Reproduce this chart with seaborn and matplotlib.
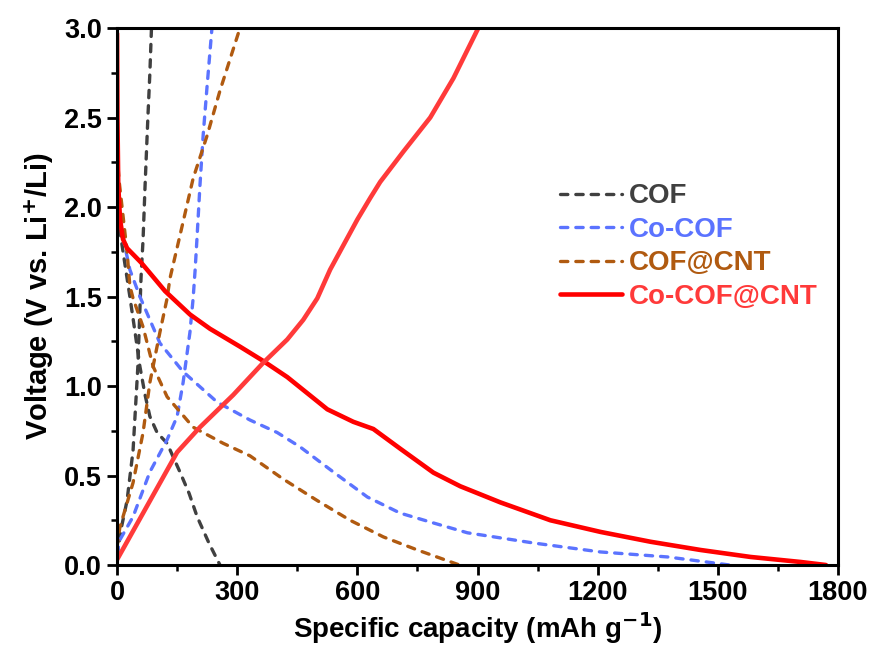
import matplotlib
matplotlib.use("Agg")
import matplotlib.pyplot as plt
from matplotlib.ticker import AutoMinorLocator
from matplotlib.lines import Line2D
import seaborn as sns
import pandas as pd

# Galvanostatic discharge/charge profiles (capacity in mAh g-1, voltage in V)
samples = ["COF", "Co-COF", "COF@CNT", "Co-COF@CNT"]

cof_dis_cap = [0, 5, 15, 32, 45, 57, 70, 82, 100, 125, 157, 180, 200, 230, 257]
cof_dis_v = [2.05, 1.90, 1.75, 1.50, 1.30, 1.11, 0.95, 0.83, 0.74, 0.68, 0.52, 0.40, 0.27, 0.12, 0.0]
cof_chg_cap = [0, 10, 25, 40, 52, 60, 65, 70, 77, 82, 86]
cof_chg_v = [0.05, 0.20, 0.36, 0.64, 1.11, 1.61, 1.82, 2.12, 2.50, 2.75, 3.0]

cocof_dis_cap = [0, 5, 12, 32, 57, 107, 165, 250, 332, 400, 457, 540, 625, 707, 790, 875, 1040, 1207, 1375, 1530]
cocof_dis_v = [2.0, 1.95, 1.86, 1.65, 1.50, 1.24, 1.08, 0.91, 0.81, 0.74, 0.66, 0.52, 0.38, 0.29, 0.235, 0.18, 0.123, 0.073, 0.045, 0.0]
cocof_chg_cap = [0, 7, 40, 82, 125, 150, 165, 182, 190, 195, 200, 207, 215, 225, 237]
cocof_chg_v = [0.06, 0.14, 0.27, 0.52, 0.70, 0.83, 1.02, 1.30, 1.49, 1.65, 1.84, 2.12, 2.40, 2.68, 3.0]

cofcnt_dis_cap = [0, 5, 25, 32, 40, 65, 90, 125, 190, 265, 332, 415, 500, 582, 665, 750, 855]
cofcnt_dis_v = [2.3, 2.15, 1.75, 1.56, 1.49, 1.33, 1.11, 0.94, 0.77, 0.68, 0.61, 0.48, 0.36, 0.25, 0.157, 0.084, 0.0]
cofcnt_chg_cap = [0, 7, 40, 65, 82, 107, 125, 132, 157, 190, 225, 257, 307]
cofcnt_chg_v = [0.1, 0.21, 0.46, 0.74, 1.02, 1.30, 1.49, 1.60, 1.84, 2.16, 2.40, 2.65, 3.0]

cocofcnt_dis_cap = [0, 1, 3, 7.5, 15, 25, 60, 120, 182, 232, 307, 365, 425, 525, 590, 640, 707, 790, 857, 957, 1082, 1207, 1332, 1457, 1582, 1707, 1770]
cocofcnt_dis_v = [2.97, 2.50, 2.12, 1.93, 1.82, 1.77, 1.69, 1.53, 1.40, 1.32, 1.22, 1.14, 1.05, 0.87, 0.80, 0.76, 0.65, 0.516, 0.44, 0.35, 0.25, 0.185, 0.13, 0.084, 0.045, 0.017, 0.0]
cocofcnt_chg_cap = [0, 40, 90, 150, 207, 290, 365, 425, 465, 500, 532, 600, 632, 657, 715, 782, 840, 902]
cocofcnt_chg_v = [0.03, 0.19, 0.39, 0.63, 0.77, 0.95, 1.13, 1.26, 1.37, 1.49, 1.65, 1.93, 2.05, 2.14, 2.31, 2.50, 2.72, 3.0]

x_ticks = [0, 300, 600, 900, 1200, 1500, 1800]
y_ticks = [0.0, 0.5, 1.0, 1.5, 2.0, 2.5, 3.0]

curves = {
    "COF": [(cof_dis_cap, cof_dis_v), (cof_chg_cap, cof_chg_v)],
    "Co-COF": [(cocof_dis_cap, cocof_dis_v), (cocof_chg_cap, cocof_chg_v)],
    "COF@CNT": [(cofcnt_dis_cap, cofcnt_dis_v), (cofcnt_chg_cap, cofcnt_chg_v)],
    "Co-COF@CNT": [(cocofcnt_dis_cap, cocofcnt_dis_v), (cocofcnt_chg_cap, cocofcnt_chg_v)],
}

colors = {"COF": "#404040", "Co-COF": "#5B73FF", "COF@CNT": "#B05A10", "Co-COF@CNT": "#FF3A3A"}
seg_colors = {"Co-COF@CNT": ["#FF0000", "#FF3A3A"]}
dash = (0, (2.2, 2.4))
styles = {"COF": dash, "Co-COF": dash, "COF@CNT": dash, "Co-COF@CNT": "-"}
widths = {"COF": 2.4, "Co-COF": 2.4, "COF@CNT": 2.4, "Co-COF@CNT": 3.3}

sns.set_theme(style="ticks")
plt.rcParams["font.family"] = ["Liberation Sans", "DejaVu Sans"]
plt.rcParams["font.weight"] = "bold"
plt.rcParams["mathtext.default"] = "bf"
for key in ("text.color", "axes.labelcolor", "xtick.color", "ytick.color", "axes.edgecolor"):
    plt.rcParams[key] = "black"

fig = plt.figure(figsize=(8.78, 6.52), dpi=100)
ax = fig.add_axes([0.1333, 0.1334, 0.8211, 0.8236])

for name in samples:
    for i, (cap, v) in enumerate(curves[name]):
        df = pd.DataFrame({"capacity": cap, "voltage": v})
        col = seg_colors.get(name, [colors[name]] * 2)[i]
        sns.lineplot(data=df, x="capacity", y="voltage", sort=False, estimator=None,
                     color=col, linewidth=widths[name], linestyle=styles[name], ax=ax,
                     legend=False, dash_capstyle="round", solid_capstyle="round")

ax.set_xlim(0, 1800)
ax.set_ylim(0, 3.0)
ax.set_xticks(x_ticks)
ax.set_yticks(y_ticks)
ax.set_yticklabels([f"{t:.1f}" for t in y_ticks])
ax.xaxis.set_minor_locator(AutoMinorLocator(2))
ax.yaxis.set_minor_locator(AutoMinorLocator(2))
ax.tick_params(which="major", direction="out", length=7, width=2.0, labelsize=19.5, pad=4,
               color="black", labelcolor="black")
ax.tick_params(which="minor", direction="out", length=4, width=1.8, color="black")
for lab in ax.get_xticklabels() + ax.get_yticklabels():
    lab.set_fontweight("bold")

for sp in ax.spines.values():
    sp.set_visible(True)
    sp.set_linewidth(2.2)
    sp.set_color("black")

ax.set_xlabel("Specific capacity (mAh g$^{-1}$)", fontsize=20, fontweight="bold", labelpad=3,
              color="black")
ax.set_ylabel("Voltage (V vs. Li$^{+}$/Li)", fontsize=21, fontweight="bold", labelpad=6,
              color="black")

leg_handles = [Line2D([0], [0], color=seg_colors.get(n, [colors[n]])[0], lw=widths[n],
                      linestyle=styles[n], dash_capstyle="round") for n in samples]
leg = ax.legend(leg_handles, samples, loc="upper left", bbox_to_anchor=(0.615, 0.711),
                frameon=False, fontsize=20, handlelength=2.2, handletextpad=0.25,
                labelspacing=0.27, borderpad=0, borderaxespad=0)
for txt, n in zip(leg.get_texts(), samples):
    txt.set_color(colors[n])
    txt.set_fontweight("bold")

fig.savefig("out.png", dpi=100)
